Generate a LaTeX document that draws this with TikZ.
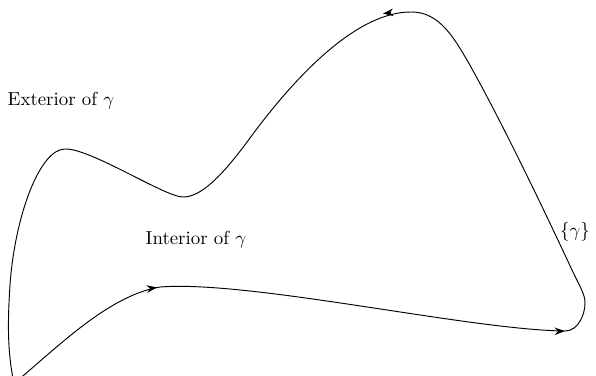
\documentclass[tikz,border=0pt]{standalone}
\usetikzlibrary{arrows.meta}
\begin{document}
\begin{tikzpicture}[x=0.53pt,y=-0.53pt,
  curve/.style={line width=0.5pt},
  tip/.style={-{Stealth[length=5.5pt,width=4pt,inset=1.8pt]},line width=0.5pt},
  lbl/.style={inner sep=0pt}]
\useasboundingbox (0,0) rectangle (596,375);
\begin{scope}
\clip (0,0) rectangle (596,375);
\draw[curve] (6,390)
  .. controls (50,355) and (105,296) .. (160,287)
  .. controls (250,280) and (470,330) .. (565,331)
  .. controls (578,331) and (585,315) .. (585,303)
  .. controls (585,294) and (580,287) .. (572,270)
  .. controls (545,212) and (500,118) .. (467,60)
  .. controls (455,40) and (440,12) .. (412,12)
  .. controls (360,11) and (300,70) .. (250,138)
  .. controls (220,179) and (200,197) .. (183,197)
  .. controls (165,197) and (90,148) .. (65,149)
  .. controls (40,149) and (15,215) .. (10,285)
  .. controls (7,330) and (8,360) .. (16,392);
\end{scope}
\coordinate (a1s) at (150,288.5);
\coordinate (a1) at (157,287.4);
\coordinate (a2s) at (558,331.2);
\coordinate (a2) at (565,331);
\coordinate (a3s) at (391,12.6);
\coordinate (a3) at (383,13.6);
\draw[tip] (a1s) -- (a1);
\draw[tip] (a2s) -- (a2);
\draw[tip] (a3s) -- (a3);
\node[lbl] (ext) at (61,101) {Exterior of $\gamma$};
\node[lbl] (int) at (196,240) {Interior of $\gamma$};
\node[lbl] (gam) at (575,232) {$\{\gamma\}$};
\end{tikzpicture}
\end{document}
